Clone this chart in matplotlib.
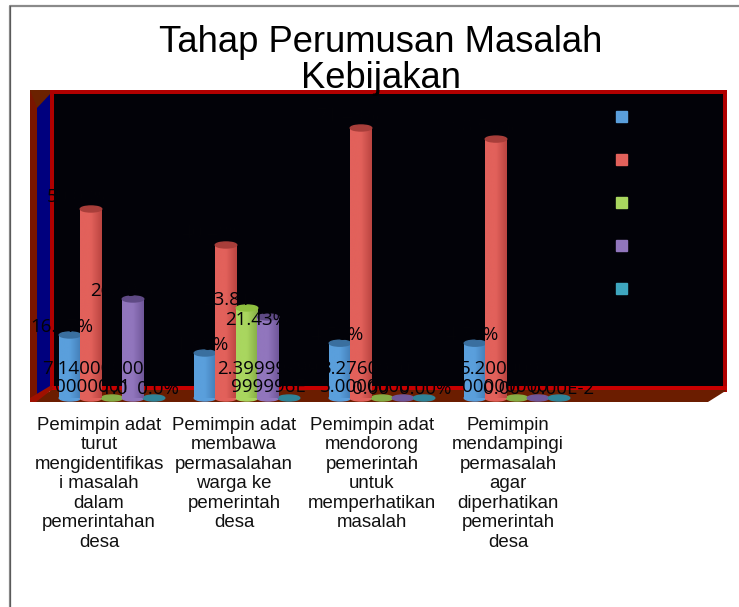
import numpy as np
import matplotlib
matplotlib.use('Agg')
from matplotlib import pyplot as plt
from matplotlib.colors import LinearSegmentedColormap
from matplotlib.patches import Ellipse, Polygon, Rectangle

W, H = 739, 607

title = 'Tahap Perumusan Masalah\nKebijakan'
categories = ['Pemimpin adat\nturut\nmengidentifikas\ni masalah\ndalam\npemerintahan\ndesa',
              'Pemimpin adat\nmembawa\npermasalahan\nwarga ke\npemerintah\ndesa',
              'Pemimpin adat\nmendorong\npemerintah\nuntuk\nmemperhatikan\nmasalah',
              'Pemimpin\nmendampingi\npermasalah\nagar\ndiperhatikan\npemerintah\ndesa']

s1 = [16.67, 11.90, 14.50, 14.50]
s2 = [50.00, 40.48, 71.43, 68.50]
s3 = [0.00, 23.81, 0.00, 0.00]
s4 = [26.19, 21.43, 0.00, 0.00]
s5 = [0.00, 0.00, 0.00, 0.00]
series = [s1, s2, s3, s4, s5]
colors = ['#5a9fdc', '#e2615b', '#a9d65f', '#9176bd', '#3ea6bf']
shades = ['#447fb8', '#bb4541', '#86ad45', '#70579a', '#2f8498']
tops = ['#3a6f9f', '#a83e3a', '#8fc040', '#5f4a85', '#2a7a8c']

labels1 = ['16.67%', '11.90%', '14.50%', '14.50%']
labels2 = ['50.00%', '40.48%', '71.43%', '68.50%']
labels3 = ['23.81%']
labels4 = ['26.19%', '21.43%']
long_labels = ['7.14000000\n0000001', '2.39999999\n999996E',
               '3.2760000\n5.0000000', '5.2000000\n00000000']
long_dx = [-19, 21, -17, -12]
zero_labels = ['1.0  0.0%', '', '0.00  0.00%', '0.00  0.00E-2']
zero_dx = [28, 0, 20, 22]

PX_PER_X = 135.0
PX_PER_Y = 3.78
X0, Y0 = 112.0, 398.0
BAR_W = 21.5 / PX_PER_X


def px(x, y):
    return x / W, 1 - y / H


def poly(fig, pts, color, z=1):
    fig.add_artist(Polygon([px(*p) for p in pts], closed=True, facecolor=color,
                           edgecolor='none', transform=fig.transFigure, zorder=z))


def main():
    fig = plt.figure(figsize=(W / 100, H / 100), dpi=100, facecolor='white')

    # frame + 3d box, pixel positions
    fig.add_artist(plt.Line2D([px(10, 0)[0], px(10, 0)[0], 1], [0, px(0, 6)[1], px(0, 6)[1]],
                              color='#8a8a8a', lw=1.6, zorder=0))
    fig.add_artist(plt.Line2D([px(10, 0)[0], px(10, 0)[0]], [0, px(0, 6)[1]], color='#5a5a5a', lw=0.8, zorder=0))
    poly(fig, [(30, 90), (54, 90), (54, 110), (30, 110)], '#6b2200')
    poly(fig, [(30, 90), (37, 108), (37, 402), (30, 402)], '#7a1500')
    poly(fig, [(37, 108), (52, 92), (52, 388), (37, 402)], '#00007e')
    poly(fig, [(50, 90), (727, 90), (727, 392), (50, 392)], '#b00000')
    poly(fig, [(54, 94), (723, 94), (723, 386), (54, 386)], '#020208')
    poly(fig, [(52, 386), (727, 386), (727, 391), (52, 391)], '#c80000')
    poly(fig, [(30, 402), (52, 390), (727, 390), (708, 402)], '#6b1d00')
    poly(fig, [(30, 402), (36, 402), (54, 388), (50, 386), (30, 398)], '#a01000')

    ax = fig.add_axes([0, 0, 1, 1])
    ax.set_zorder(5)
    ax.patch.set_alpha(0)
    ax.axis('off')

    x = np.arange(len(categories))
    grad = np.linspace(0, 1, 64).reshape(1, -1)
    for i, vals in enumerate(series):
        off = (i - 2) * 21.0 / PX_PER_X
        cmap = LinearSegmentedColormap.from_list('c', [colors[i], colors[i], shades[i]])
        bars = ax.bar(x + off, vals, BAR_W, color=colors[i], linewidth=0, zorder=3 + i * 0.1)
        for b, xx, v in zip(bars, x + off, vals):
            h = v if v > 0 else 0.01
            im = ax.imshow(grad, extent=[xx - BAR_W / 2, xx + BAR_W / 2, 0, h], aspect='auto',
                           cmap=cmap, zorder=3.01 + i * 0.1)
            im.set_clip_path(b)
            ew, eh = BAR_W, 6.0 / PX_PER_Y
            ax.add_patch(Ellipse((xx, 0), ew, eh, color=shades[i] if v == 0 else colors[i], zorder=2.9 + i * 0.1))
            if v > 0:
                ax.add_patch(Ellipse((xx, v), ew, eh, color=tops[i], zorder=3.05 + i * 0.1))

    ax.set_xlim(-X0 / PX_PER_X, (W - X0) / PX_PER_X)
    ax.set_ylim(-(H - Y0) / PX_PER_Y, Y0 / PX_PER_Y)

    fp = dict(family='Open Sans', fontsize=13.5, color='#030308', zorder=6, ha='center', va='center')
    p = 0.72  # px -> points

    def put(xv, yv, s, dx, dy, **kw):
        ax.annotate(s, (xv, yv), xytext=(dx * p, dy * p), textcoords='offset points',
                    annotation_clip=False, **{**fp, **kw})

    for g in x:
        put(g - 2 * 21 / PX_PER_X, s1[g], labels1[g], -8, 8)
        put(g - 21 / PX_PER_X, s2[g], labels2[g], -13, 12)
    put(x[1], s3[1], labels3[0], -12, 8)
    put(x[0] + 21 / PX_PER_X, s4[0], labels4[0], -11, 8)
    put(x[1] + 21 / PX_PER_X, s4[1], labels4[1], -11, -3)
    for g, s in enumerate(long_labels):
        put(g, 0, s, long_dx[g], 20, linespacing=1.0)
        if zero_labels[g]:
            put(g, 0, zero_labels[g], zero_dx[g], 9)

    cat_dx = [-13, -13, -10, -9]
    for g, s in enumerate(categories):
        ax.annotate(s, (g, 0), xytext=(cat_dx[g] * p, -19 * p), textcoords='offset points', ha='center',
                    va='top', family='Liberation Sans', fontsize=13.4, linespacing=1.19,
                    color='#111111', annotation_clip=False)

    fig.text(381 / W, 1 - 60.5 / H, title, ha='center', va='center', family='Liberation Sans',
             fontsize=26.2, linespacing=1.03, color='black', zorder=7)

    # legend keys only, the legend text is black on black in the source
    for i, c in enumerate(colors):
        fig.add_artist(Rectangle(px(616, 122 + i * 43), 11 / W, 11 / H, color=c,
                                 transform=fig.transFigure, zorder=8))

    fig.savefig('out.png', dpi=100)


if __name__ == '__main__':
    main()
